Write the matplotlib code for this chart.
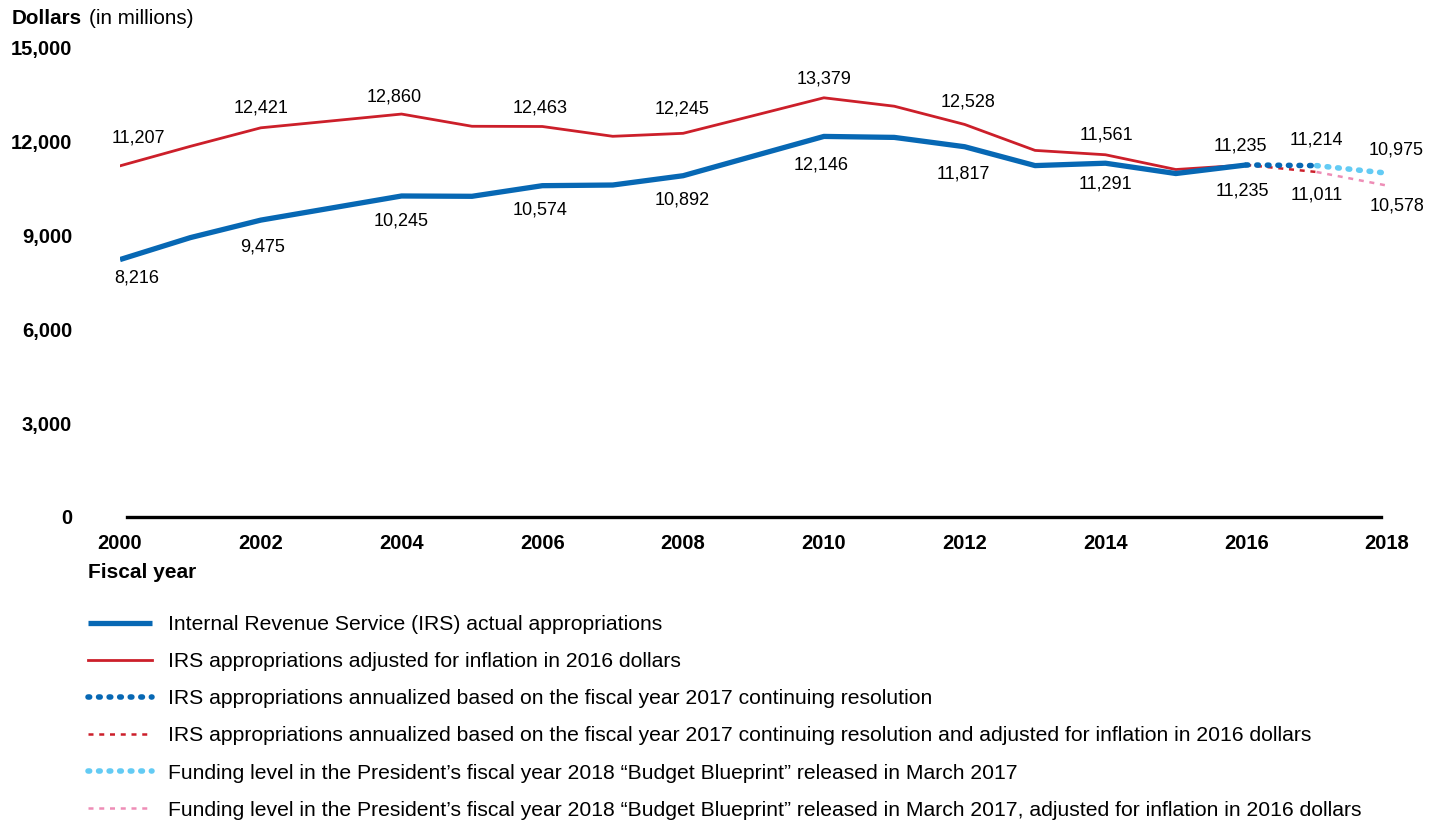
import matplotlib
matplotlib.use("Agg")
import matplotlib.pyplot as plt

plt.rcParams['font.family'] = ['Liberation Sans', 'DejaVu Sans']

# Data (dollars in millions)
years = list(range(2000, 2017))
actual = [8216, 8917, 9475, 9860, 10245, 10235, 10574, 10595, 10892, 11520,
          12146, 12115, 11817, 11215, 11291, 10962, 11235]
adjusted = [11207, 11830, 12421, 12640, 12860, 12470, 12463, 12150, 12245, 12810,
            13379, 13110, 12528, 11700, 11561, 11090, 11235]
cr_years = [2016, 2017]
cr_actual = [11235, 11214]
cr_adjusted = [11235, 11011]
bp_years = [2017, 2018]
bp_actual = [11214, 10975]
bp_adjusted = [11011, 10578]

labels = [
    "Internal Revenue Service (IRS) actual appropriations",
    "IRS appropriations adjusted for inflation in 2016 dollars",
    "IRS appropriations annualized based on the fiscal year 2017 continuing resolution",
    "IRS appropriations annualized based on the fiscal year 2017 continuing resolution and adjusted for inflation in 2016 dollars",
    "Funding level in the President\u2019s fiscal year 2018 \u201cBudget Blueprint\u201d released in March 2017",
    "Funding level in the President\u2019s fiscal year 2018 \u201cBudget Blueprint\u201d released in March 2017, adjusted for inflation in 2016 dollars",
]

blue = '#0768B4'
red = '#CC1F2A'
light_blue = '#63CBF4'
pink = '#EE8DB6'

fig = plt.figure(figsize=(14.4, 8.27), dpi=100)
ax = fig.add_axes([120 / 1440, 1 - 517 / 827, (1387 - 120) / 1440, (517 - 47) / 827])

l2, = ax.plot(years, adjusted, color=red, lw=2.0, zorder=3)
l1, = ax.plot(years, actual, color=blue, lw=3.8, zorder=4, solid_capstyle='butt')
l4, = ax.plot(cr_years, cr_adjusted, color=red, lw=1.8, linestyle=(0, (2.0, 2.3)), zorder=3)
l3, = ax.plot(cr_years, cr_actual, color=blue, lw=4.0, linestyle=(0, (0.3, 1.6)),
              dash_capstyle='round', zorder=4)
l6, = ax.plot(bp_years, bp_adjusted, color=pink, lw=1.8, linestyle=(0, (2.0, 2.3)), zorder=3)
l5, = ax.plot(bp_years, bp_actual, color=light_blue, lw=4.0, linestyle=(0, (0.3, 1.6)),
              dash_capstyle='round', zorder=4)

# value labels: (x, value, offset in pixels)
above = [(2000, 11207, 18, 28), (2002, 12421, 0, 20), (2004, 12860, -7, 17),
         (2006, 12463, -2, 18), (2008, 12245, -1, 24), (2010, 13379, 0, 19),
         (2012, 12528, 3, 22), (2014, 11561, 1, 20), (2016, 11235, -6, 19),
         (2017, 11214, 0, 26), (2018, 10975, 9, 23)]
below = [(2000, 8216, 17, -18), (2002, 9475, 2, -27), (2004, 10245, 0, -25),
         (2006, 10574, -2, -24), (2008, 10892, -1, -24), (2010, 12146, -3, -29),
         (2012, 11817, -1, -27), (2014, 11291, 0, -21), (2016, 11235, -4, -26),
         (2017, 11011, 0, -23), (2018, 10578, 10, -20)]
for x, v, dx, dy in above + below:
    ax.annotate(f"{v:,}", (x, v), xytext=(dx, dy), textcoords='offset pixels',
                ha='center', va='center', fontsize=13)

ax.set_xlim(2000, 2018)
ax.set_ylim(0, 15000)
ax.set_xticks(range(2000, 2019, 2))
ax.set_yticks(range(0, 15001, 3000))
ax.set_yticklabels([f"{t:,}" for t in range(0, 15001, 3000)])
ax.tick_params(axis='both', length=0, labelsize=14.5)
ax.tick_params(axis='y', pad=34.5)
ax.tick_params(axis='x', pad=12)
for t in ax.get_xticklabels() + ax.get_yticklabels():
    t.set_fontweight('bold')
for s in ['top', 'right', 'left', 'bottom']:
    ax.spines[s].set_visible(False)
ax.axhline(0, xmin=0.0055, xmax=0.9953, color='black', lw=2.4, zorder=5, clip_on=False)

fig.text(88 / 1440, 1 - 573 / 827, "Fiscal year", fontsize=15, fontweight='bold',
         ha='left', va='center')

t1 = fig.text(12 / 1440, 1 - 18 / 827, "Dollars", fontsize=14.9, fontweight='bold',
              ha='left', va='center')
fig.canvas.draw()
bb = t1.get_window_extent()
fig.text((bb.x1 + 7) / 1440, 1 - 18 / 827, "(in millions)", fontsize=14.9,
         ha='left', va='center')

fig.legend([l1, l2, l3, l4, l5, l6], labels, loc='upper left',
           bbox_to_anchor=(88 / 1440, 1 - 615 / 827), frameon=False,
           fontsize=15.2, handlelength=3.05, handletextpad=0.75,
           labelspacing=0.86, borderpad=0, borderaxespad=0)

fig.savefig("out.png", dpi=100)
